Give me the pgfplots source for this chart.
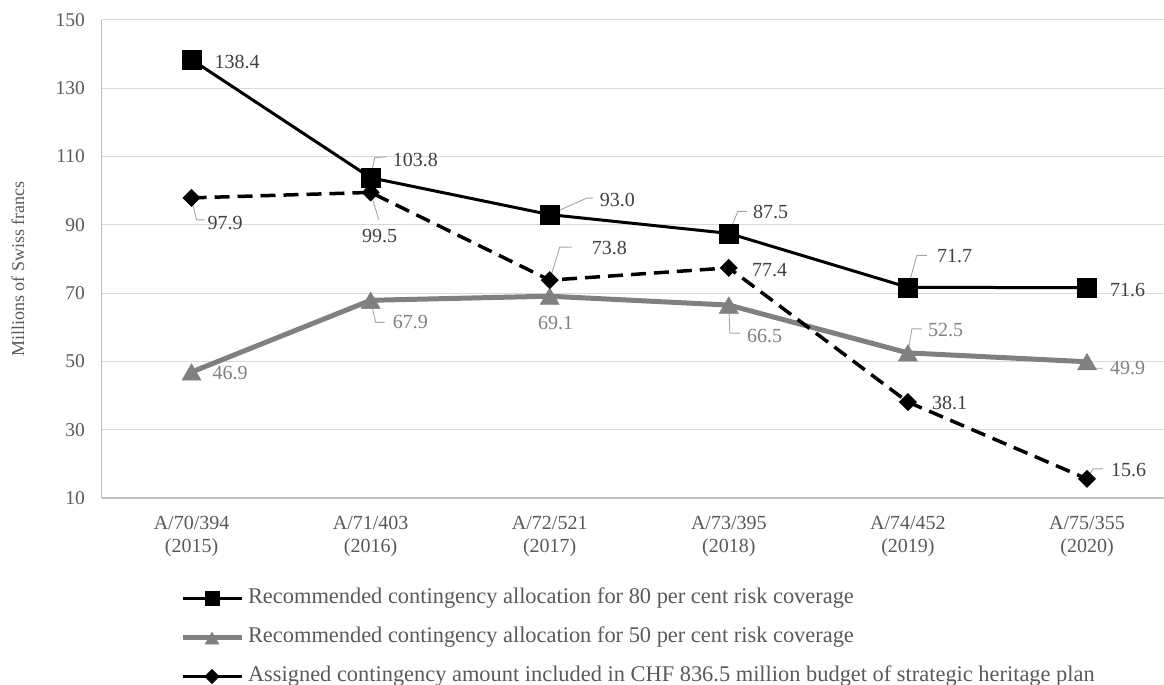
\documentclass[border=0pt]{standalone}
\usepackage{pgfplots}
\pgfplotsset{compat=1.18}
\usepackage{fontspec}
\setmainfont{Liberation Serif}

\definecolor{gridgray}{HTML}{D9D9D9}
\definecolor{axisgray}{HTML}{BFBFBF}
\definecolor{ticktext}{HTML}{595959}
\definecolor{labdark}{HTML}{404040}
\definecolor{halfgray}{HTML}{808080}
\definecolor{leadgray}{HTML}{A6A6A6}

% legend sample: a solid stroke with the marker in its middle
\pgfplotsset{
  leg/.style={legend image code/.code={\draw[mark repeat=2, mark phase=2, ##1, solid, mark size=#1]
    plot coordinates {(0pt,0pt) (29.5pt,0pt) (59pt,0pt)};}},
}

\begin{document}
\begin{tikzpicture}[
  lab/.style={font=\fontsize{20}{20}\selectfont, inner sep=0pt, text=labdark},
  labg/.style={lab, text=halfgray},
  leader/.style={draw=leadgray, line width=0.9pt},
]
\begin{axis}[
  scale only axis,
  width=1062pt, height=478pt,
  xmin=-0.5, xmax=5.43,
  ymin=10, ymax=150,
  ytick={10,30,...,150},
  xtick={0,...,5},
  xticklabels={{A/70/394\\(2015)},{A/71/403\\(2016)},{A/72/521\\(2017)},{A/73/395\\(2018)},{A/74/452\\(2019)},{A/75/355\\(2020)}},
  /pgf/number format/assume math mode=true,
  major tick length=0pt,
  axis x line*=bottom,
  axis y line*=left,
  axis line style={draw=axisgray, line width=1pt},
  x axis line style={line width=1.5pt},
  ymajorgrids,
  grid style={draw=gridgray, line width=1pt},
  yticklabel style={font=\fontsize{19.5}{19.5}\selectfont, text=ticktext, inner sep=0pt, anchor=east, xshift=-17pt},
  xticklabel style={font=\fontsize{20}{23}\selectfont, text=ticktext, inner sep=0pt, anchor=north, align=center, yshift=-18pt},
  ylabel={Millions of Swiss francs},
  every axis y label/.style={at={(axis description cs:-0.0791,0.479)}, anchor=center, rotate=90,
    font=\fontsize{18}{18}\selectfont, text=ticktext},
  clip=false,
  legend cell align=left,
  legend style={
    draw=none, fill=none,
    at={(axis description cs:0.0735,-0.1883)}, anchor=north west,
    font=\fontsize{22.4}{22.4}\selectfont, text=ticktext,
    inner sep=0pt, outer sep=0pt,
    row sep=18pt, column sep=4pt,
    nodes={inner sep=0pt, text height=16pt, text depth=5pt},
  },
]

% 80 per cent risk coverage
\addplot[black, line width=3pt, mark=square*, mark size=9.5pt,
  mark options={solid, fill=black, line width=0.5pt}, leg=7pt]
  coordinates {(0,138.4) (1,103.8) (2,93.0) (3,87.5) (4,71.7) (5,71.6)};
\addlegendentry{Recommended contingency allocation for 80 per cent risk coverage}

% 50 per cent risk coverage
\addplot[halfgray, line width=5pt, mark=triangle*, mark size=11pt,
  mark options={solid, fill=halfgray, line width=0.5pt, yshift=-2.7pt}, leg=8pt]
  coordinates {(0,46.9) (1,67.9) (2,69.1) (3,66.5) (4,52.5) (5,49.9)};
\addlegendentry{Recommended contingency allocation for 50 per cent risk coverage}

% Assigned contingency in the strategic heritage plan budget
\addplot[black, line width=3.5pt, dash pattern=on 15pt off 8pt, mark=square*, mark size=5.8pt,
  mark options={solid, fill=black, line width=1.2pt, rotate=45, rounded corners=1.5pt}, leg=4.8pt]
  coordinates {(0,97.9) (1,99.5) (2,73.8) (3,77.4) (4,38.1) (5,15.6)};
\addlegendentry{Assigned contingency amount included in CHF 836.5 million budget of strategic heritage plan}

% leader lines
\draw[leader] (axis cs:1,103.8) -- ++(4pt,20pt) -- ++(12pt,1pt);
\draw[leader] (axis cs:2,93.0) -- ++(37pt,16.5pt) -- ++(6.5pt,0pt);
\draw[leader] (axis cs:3,87.5) -- ++(9pt,22pt) -- ++(9pt,0pt);
\draw[leader] (axis cs:4,71.7) -- ++(9pt,32pt) -- ++(10pt,0pt);
\draw[leader] (axis cs:1,67.9) -- ++(5pt,-22pt) -- ++(9pt,0pt);
\draw[leader] (axis cs:3,66.5) -- ++(1pt,-28pt) -- ++(10pt,0pt);
\draw[leader] (axis cs:4,52.5) -- ++(4pt,24pt) -- ++(10pt,0pt);
\draw[leader] (axis cs:5,49.9) -- ++(8pt,-6.5pt) -- ++(8pt,0pt);
\draw[leader] (axis cs:0,97.9) -- ++(5pt,-22pt) -- ++(8pt,0pt);
\draw[leader] (axis cs:1,99.5) -- ++(8pt,-27pt);
\draw[leader] (axis cs:2,73.8) -- ++(10pt,33pt) -- ++(12pt,0pt);
\draw[leader] (axis cs:5,15.6) -- ++(6pt,10pt) -- ++(10pt,0pt);

% value labels, 80 per cent series
\node[lab, anchor=west, xshift=23pt, yshift=-2pt] at (axis cs:0,138.4) {138.4};
\node[lab, anchor=west, xshift=22pt, yshift=17.5pt] at (axis cs:1,103.8) {103.8};
\node[lab, anchor=west, xshift=50pt, yshift=15pt] at (axis cs:2,93.0) {93.0};
\node[lab, anchor=west, xshift=24pt, yshift=21.5pt] at (axis cs:3,87.5) {87.5};
\node[lab, anchor=west, xshift=29pt, yshift=31pt] at (axis cs:4,71.7) {71.7};
\node[lab, anchor=west, xshift=23pt, yshift=-2pt] at (axis cs:5,71.6) {71.6};

% value labels, 50 per cent series
\node[labg, anchor=west, xshift=21pt, yshift=-1pt] at (axis cs:0,46.9) {46.9};
\node[labg, anchor=west, xshift=22pt, yshift=-22pt] at (axis cs:1,67.9) {67.9};
\node[labg, anchor=center, xshift=6pt, yshift=-27pt] at (axis cs:2,69.1) {69.1};
\node[labg, anchor=west, xshift=18pt, yshift=-31pt] at (axis cs:3,66.5) {66.5};
\node[labg, anchor=west, xshift=20pt, yshift=23pt] at (axis cs:4,52.5) {52.5};
\node[labg, anchor=west, xshift=23pt, yshift=-6.5pt] at (axis cs:5,49.9) {49.9};

% value labels, assigned contingency
\node[lab, anchor=west, xshift=16pt, yshift=-25pt] at (axis cs:0,97.9) {97.9};
\node[lab, anchor=center, xshift=9pt, yshift=-43.5pt] at (axis cs:1,99.5) {99.5};
\node[lab, anchor=west, xshift=42pt, yshift=32pt] at (axis cs:2,73.8) {73.8};
\node[lab, anchor=west, xshift=23pt, yshift=-2pt] at (axis cs:3,77.4) {77.4};
\node[lab, anchor=west, xshift=24pt, yshift=-1pt] at (axis cs:4,38.1) {38.1};
\node[lab, anchor=west, xshift=24pt, yshift=9pt] at (axis cs:5,15.6) {15.6};

\end{axis}
\pgfresetboundingbox
\path ([shift={(-102pt,-187pt)}]current axis.south west) rectangle ([shift={(0pt,20pt)}]current axis.north east);
\end{tikzpicture}
\end{document}
